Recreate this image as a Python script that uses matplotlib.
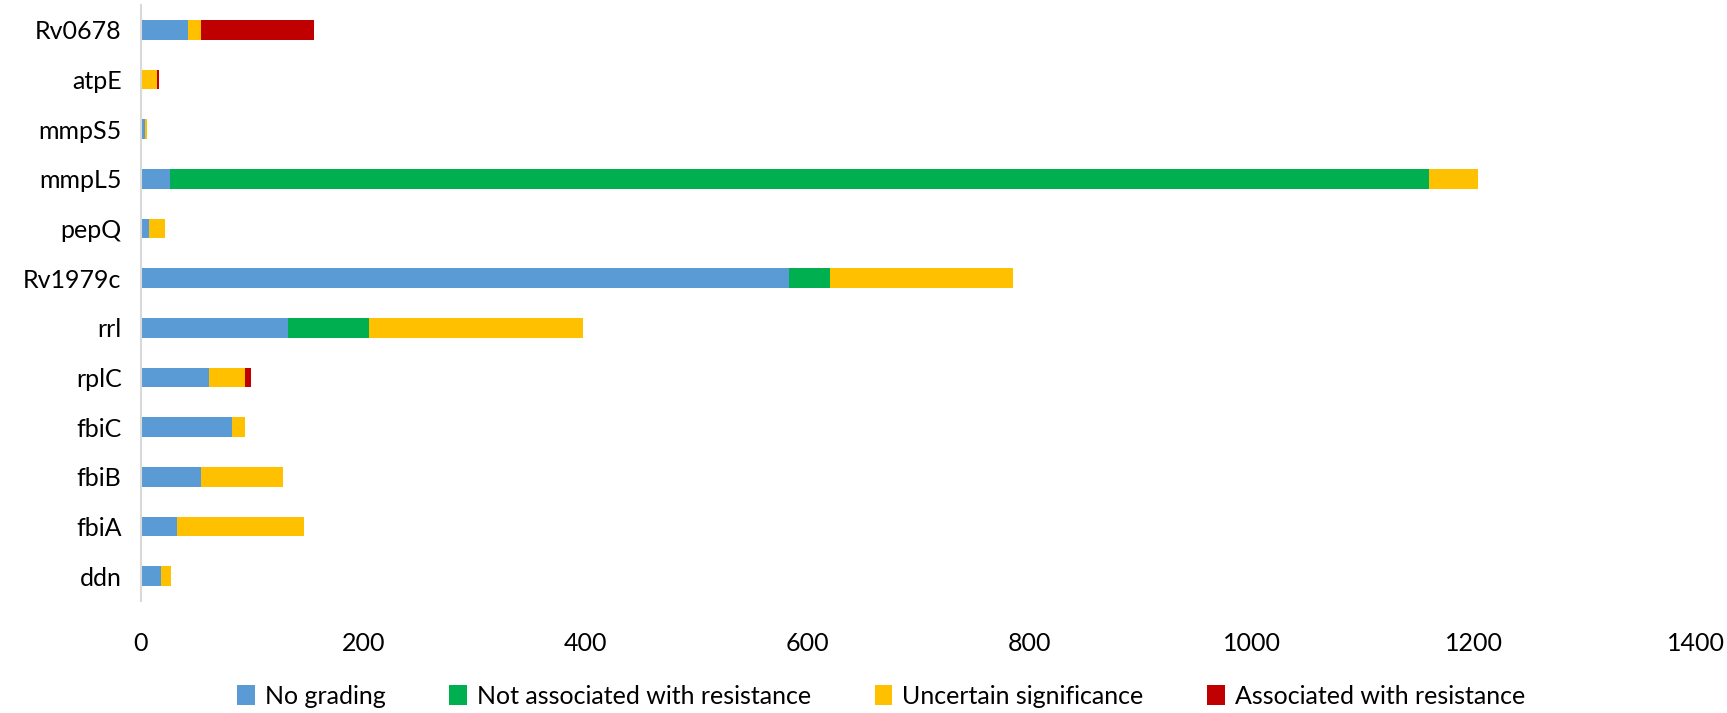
import matplotlib.pyplot as plt

genes = ['Rv0678', 'atpE', 'mmpS5', 'mmpL5', 'pepQ', 'Rv1979c',
         'rrl', 'rplC', 'fbiC', 'fbiB', 'fbiA', 'ddn']
no_grading = [42, 0, 4, 26, 7, 583, 132, 61, 82, 54, 32, 18]
not_associated = [0, 0, 0, 1134, 0, 37, 73, 0, 0, 0, 0, 0]
uncertain = [12, 14, 1, 44, 15, 165, 193, 33, 12, 74, 115, 9]
associated = [102, 2, 0, 0, 0, 0, 0, 5, 0, 0, 0, 0]

series = [
    ('No grading', no_grading, '#5B9BD5'),
    ('Not associated with resistance', not_associated, '#00B050'),
    ('Uncertain significance', uncertain, '#FFC000'),
    ('Associated with resistance', associated, '#C00000'),
]

plt.rcParams['font.family'] = ['Lato', 'DejaVu Sans']

W, H = 1727, 713
fig = plt.figure(figsize=(W / 100, H / 100), dpi=100)
ax = fig.add_axes([141 / W, 1 - 601 / H, (1696 - 141) / W, (601 - 5) / H])

ypos = list(range(len(genes)))[::-1]
left = [0] * len(genes)
for name, vals, color in series:
    ax.barh(ypos, vals, left=left, height=0.4, color=color, label=name)
    left = [a + b for a, b in zip(left, vals)]

ax.set_xlim(0, 1400)
ax.set_ylim(-0.5, len(genes) - 0.5)
ax.set_xticks(range(0, 1401, 200))
ax.set_yticks(ypos)
ax.set_yticklabels(genes)
ax.tick_params(axis='both', length=0, labelsize=18, colors='#000000')
ax.tick_params(axis='x', pad=22)
ax.tick_params(axis='y', pad=14)
for s in ['top', 'right', 'bottom']:
    ax.spines[s].set_visible(False)
ax.spines['left'].set_color('#D9D9D9')
ax.spines['left'].set_linewidth(1.5)

fig.legend(loc='center', bbox_to_anchor=(881 / W, 1 - 696 / H), ncol=4,
           frameon=False, fontsize=18, handlelength=0.7, handleheight=0.9,
           handletextpad=0.4, columnspacing=2.55)

fig.savefig('out.png', dpi=100)
